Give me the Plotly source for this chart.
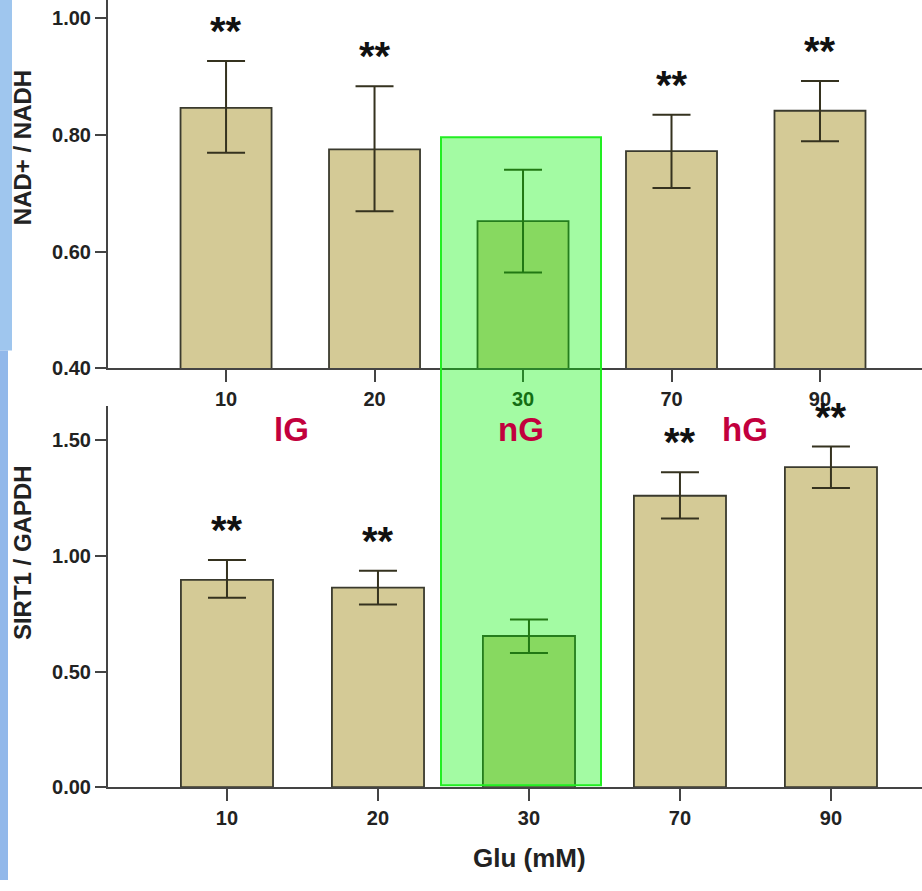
import plotly.graph_objects as go

# ---- data ----
categories = ["10", "20", "30", "70", "90"]
group_labels = ["lG", "nG", "hG"]
nad_mean = [0.846, 0.775, 0.652, 0.772, 0.841]
nad_err_plus = [0.080, 0.108, 0.088, 0.062, 0.051]
nad_err_minus = [0.077, 0.106, 0.088, 0.063, 0.052]
sirt_mean = [0.897, 0.863, 0.654, 1.261, 1.385]
sirt_err_plus = [0.086, 0.073, 0.072, 0.102, 0.089]
sirt_err_minus = [0.077, 0.073, 0.073, 0.099, 0.090]
nad_sig = ["**", "**", "", "**", "**"]
sirt_sig = ["**", "**", "", "**", "**"]
nad_ticks = [0.40, 0.60, 0.80, 1.00]
sirt_ticks = [0.00, 0.50, 1.00, 1.50]

W, H = 922, 891
xpos = list(range(len(categories)))

BAR = "#d4ca96"
EDGE = "#3a3a2e"
TXT = "#222222"
FONT = "Liberation Sans, Arial, sans-serif"

fig = go.Figure()

fig.add_trace(go.Bar(
    x=xpos, y=nad_mean, width=0.613, marker=dict(color=BAR, line=dict(color=EDGE, width=1.8)),
    error_y=dict(type="data", symmetric=False, array=nad_err_plus, arrayminus=nad_err_minus,
                 color="#35321f", thickness=2, width=19),
    xaxis="x", yaxis="y", showlegend=False, hoverinfo="skip"))

fig.add_trace(go.Bar(
    x=xpos, y=sirt_mean, width=0.61, marker=dict(color=BAR, line=dict(color=EDGE, width=1.8)),
    error_y=dict(type="data", symmetric=False, array=sirt_err_plus, arrayminus=sirt_err_minus,
                 color="#35321f", thickness=2, width=19),
    xaxis="x2", yaxis="y2", showlegend=False, hoverinfo="skip"))

tickfont = dict(family=FONT, size=20, color=TXT, weight="bold")
axline = dict(showline=True, linecolor="#444444", linewidth=2, ticks="outside",
              tickcolor="#444444", tickwidth=2, showgrid=False, zeroline=False,
              tickfont=tickfont)

fig.update_layout(
    width=W, height=H, margin=dict(l=0, r=0, t=0, b=0),
    paper_bgcolor="white", plot_bgcolor="white",
    font=dict(family=FONT),
    xaxis=dict(domain=[108 / W, 1], range=[-0.795, 4.687], tickvals=xpos, ticktext=categories,
               anchor="y", ticklen=12, **axline),
    yaxis=dict(domain=[1 - 373 / H, 1], range=[0.4, 0.4 + 373 / 591.5], tickvals=nad_ticks,
               tickformat=".2f", anchor="x", ticklen=11, **axline),
    xaxis2=dict(domain=[108 / W, 1], range=[-0.788, 4.603], tickvals=xpos, ticktext=categories,
                anchor="y2", ticklen=12, **axline),
    yaxis2=dict(domain=[1 - 797 / H, 1 - 411 / H], range=[0, 386 / 234], tickvals=sirt_ticks,
                tickformat=".2f", anchor="x2", ticklen=11, **axline),
    bargap=0.4,
)

# left decorative blue strip
fig.add_shape(type="rect", xref="paper", yref="paper", x0=0, x1=12 / W, y0=1 - 355 / H, y1=1,
              fillcolor="#9fc6ee", line_width=0, layer="below")
fig.add_shape(type="rect", xref="paper", yref="paper", x0=0, x1=8 / W, y0=0, y1=1 - 355 / H,
              fillcolor="#92b8ea", line_width=0, layer="below")

# green highlight of the normal-glucose group
fig.add_shape(type="rect", xref="paper", yref="paper", x0=441 / W, x1=601 / W,
              y0=1 - 795 / H, y1=1 - 139 / H,
              fillcolor="rgba(0,245,0,0.36)", line=dict(color="#22ee22", width=2), layer="above")

ann = []
star_font = dict(family=FONT, size=40, color="#111111", weight="bold")
for i, s in enumerate(nad_sig):
    if s:
        ann.append(dict(x=xpos[i], y=nad_mean[i] + nad_err_plus[i], xref="x", yref="y",
                        text=s, showarrow=False, xanchor="center", yanchor="middle", yshift=30,
                        borderpad=0, font=star_font))
for i, s in enumerate(sirt_sig):
    if s:
        ann.append(dict(x=xpos[i], y=sirt_mean[i] + sirt_err_plus[i], xref="x2", yref="y2",
                        text=s, showarrow=False, xanchor="center", yanchor="middle", yshift=30,
                        borderpad=0, font=star_font))

# group labels
for gx, g in zip([291, 521, 745], group_labels):
    ann.append(dict(x=gx / W, y=1 - 435 / H, xref="paper", yref="paper", text=g,
                    xanchor="center", yanchor="middle", showarrow=False, borderpad=0,
                    font=dict(family=FONT, size=33, color="#c2003d", weight="bold")))

# axis titles
title_font = dict(family=FONT, size=24, color=TXT, weight="bold")
ann.append(dict(x=22 / W, y=1 - 150 / H, xref="paper", yref="paper", text="NAD+ / NADH",
                xanchor="center", yanchor="middle", textangle=-90, showarrow=False, font=title_font))
ann.append(dict(x=22 / W, y=1 - 560 / H, xref="paper", yref="paper", text="SIRT1 / GAPDH",
                xanchor="center", yanchor="middle", textangle=-90, showarrow=False, font=title_font))
ann.append(dict(x=529 / W, y=1 - 869 / H, xref="paper", yref="paper", text="Glu (mM)",
                xanchor="center", yanchor="middle", showarrow=False,
                font=dict(family=FONT, size=26, color=TXT, weight="bold")))

fig.update_layout(annotations=ann)

fig.write_html("out.html")
